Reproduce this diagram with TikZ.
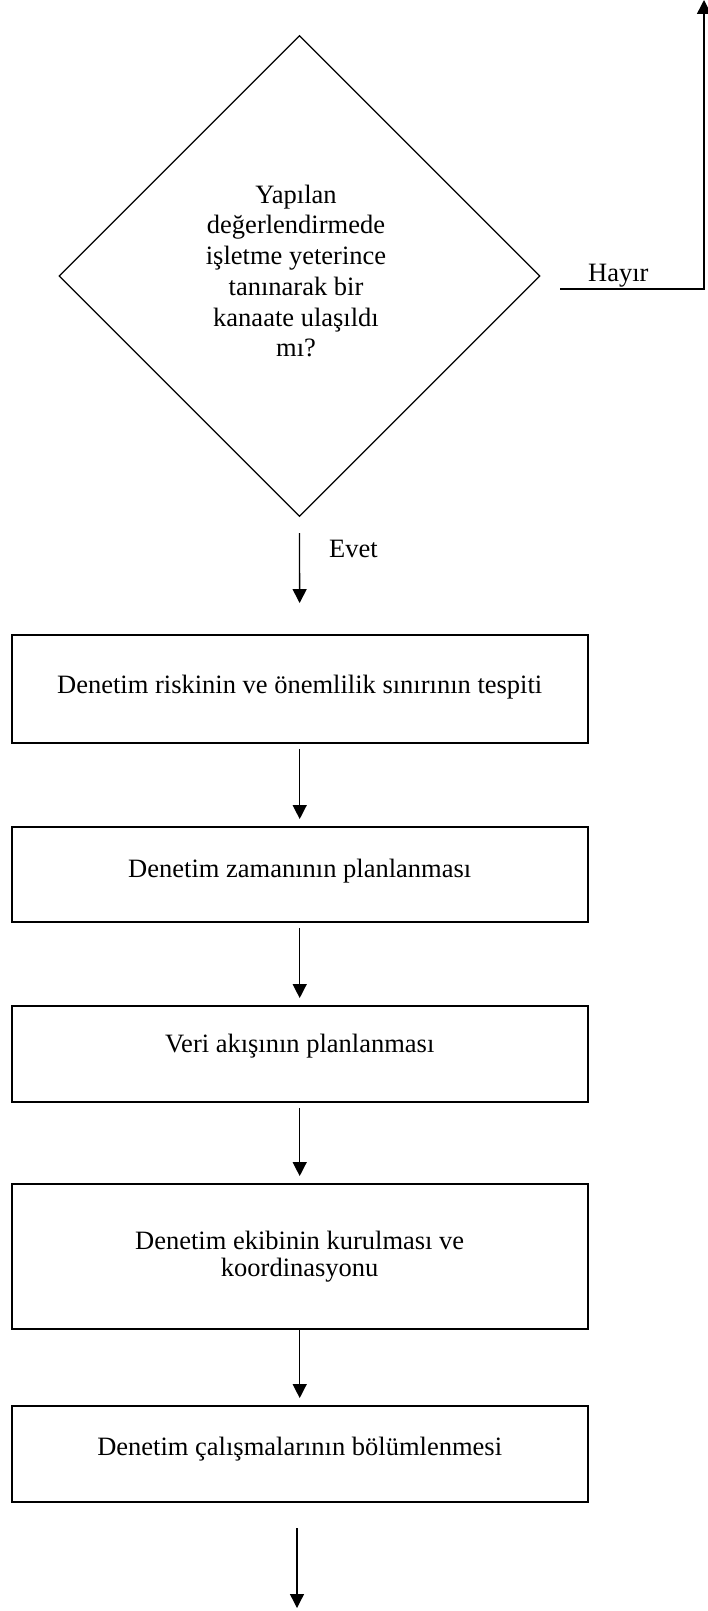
\documentclass[tikz,border=0pt]{standalone}
\usepackage{fontspec}
\setmainfont{Liberation Serif}
\usetikzlibrary{shapes.geometric,arrows.meta}
\begin{document}
\begin{tikzpicture}[x=1pt,y=-1pt,
  qtext/.style={font=\fontsize{26.5}{30.7}\selectfont, align=center, inner sep=0pt},
  stepbox/.style={draw, line width=1.9pt, minimum width=576pt, inner sep=0pt,
    font=\fontsize{26.5}{26.6}\selectfont, align=center},
  decision/.style={draw, diamond, aspect=1, line width=1.2pt,
    minimum width=481pt, minimum height=481pt, inner sep=0pt},
  flow/.style={line width=1.3pt, -{Triangle[width=14pt,length=14pt]}},
  lbl/.style={font=\fontsize{26.5}{30.7}\selectfont, inner sep=0pt, anchor=base west}]
\useasboundingbox (0,0) rectangle (707,1611);

% decision
\node[decision] (dec) at (299.5,276) {};
\node[qtext] (dectext) at (296,271) {Yapılan\\değerlendirmede\\işletme yeterince\\tanınarak bir\\kanaate ulaşıldı\\mı?};

% process steps
\node[stepbox, minimum height=108pt, text height=18pt, text depth=10pt] (b1) at (299.7,689)
  {Denetim riskinin ve önemlilik sınırının tespiti};
\node[stepbox, minimum height=95pt, text height=18pt, text depth=12pt] (b2) at (299.7,874.5)
  {Denetim zamanının planlanması};
\node[stepbox, minimum height=96pt, text height=18pt, text depth=22pt] (b3) at (299.7,1054)
  {Veri akışının planlanması};
\node[stepbox, minimum height=145pt] (b4) at (299.7,1256.5)
  {Denetim ekibinin kurulması ve\\koordinasyonu};
\node[stepbox, minimum height=96pt, text height=18pt, text depth=16pt] (b5) at (299.7,1454)
  {Denetim çalışmalarının bölümlenmesi};

% "no" branch
\coordinate (hs) at (560,289);
\coordinate (ht) at (704,0);
\draw[flow, line width=1.5pt] (hs) -| (ht);
\node[lbl] (hayir) at (588,281.7) {Hayır};

% "yes" branch
\draw[flow, shorten <=16pt, shorten >=31pt] (dec.south) -- (b1.north);
\node[lbl] (evet) at (329,557.3) {Evet};

% step connectors
\draw[flow, shorten <=5pt, shorten >=7pt] (b1.south) -- (b2.north);
\draw[flow, shorten <=5pt, shorten >=7pt] (b2.south) -- (b3.north);
\draw[flow, shorten <=5pt, shorten >=7pt] (b3.south) -- (b4.north);
\draw[flow, shorten >=7pt] (b4.south) -- (b5.north);

% continuation below the last step
\coordinate (ctop) at (297,1528);
\coordinate (cbot) at (297,1608);
\draw[flow] (ctop) -- (cbot);
\end{tikzpicture}
\end{document}
